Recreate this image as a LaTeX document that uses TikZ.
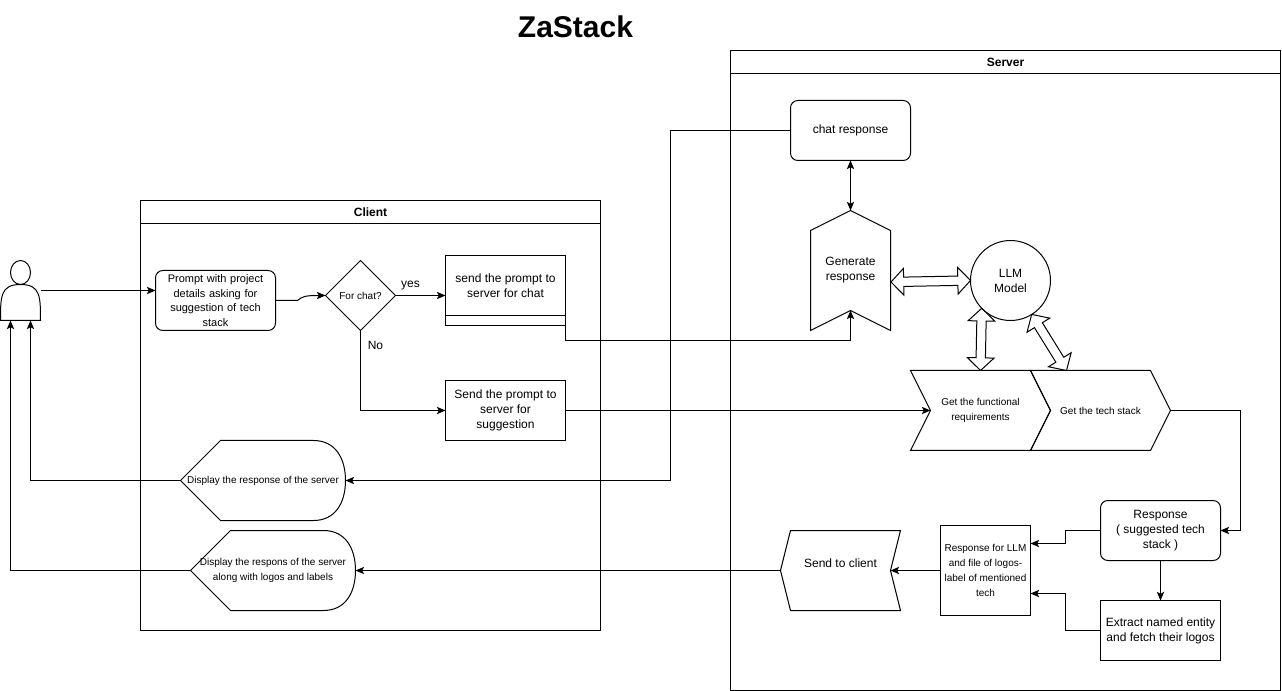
\documentclass[tikz,border=0pt]{standalone}
\usepackage{fontspec}
\setmainfont{Liberation Sans}
\usetikzlibrary{arrows.meta,calc,shapes.geometric}

\tikzset{every picture/.style={line width=0.75pt}}
\tikzset{
  label12/.style={font=\fontsize{9}{11.25}\selectfont,align=center,inner sep=0pt,outer sep=0pt},
  label11/.style={font=\fontsize{8.25}{10.8}\selectfont,align=center,inner sep=0pt,outer sep=0pt},
  label10/.style={font=\fontsize{7.5}{11.25}\selectfont,align=center,inner sep=0pt,outer sep=0pt},
  stepbox/.style={draw,minimum width=90pt,minimum height=45pt,outer sep=0pt},
  roundbox/.style={stepbox,rounded corners=5.5pt},
  lanebody/.style={draw,inner sep=0pt,outer sep=0pt},
  lanehead/.style={draw,label12,font=\fontsize{9}{11.25}\selectfont\bfseries,minimum height=17.25pt},
  conn/.style={-{Stealth[length=6.5pt,width=5.5pt,inset=1.5pt]}},
  bothconn/.style={{Stealth[length=6.5pt,width=5.5pt,inset=1.5pt]}-{Stealth[length=6.5pt,width=5.5pt,inset=1.5pt]}},
}
% block arrow with a head on both ends, from #1 to #2
\newcommand{\blockarrow}[2]{%
\draw ($(#1)$) -- ($($(#1)!9.5pt!(#2)$)!10pt!90:(#2)$) -- ($($(#1)!9.5pt!(#2)$)!3.5pt!90:(#2)$)
 -- ($($(#2)!9.5pt!(#1)$)!3.5pt!-90:(#1)$) -- ($($(#2)!9.5pt!(#1)$)!10pt!-90:(#1)$) -- ($(#2)$)
 -- ($($(#2)!9.5pt!(#1)$)!10pt!90:(#1)$) -- ($($(#2)!9.5pt!(#1)$)!3.5pt!90:(#1)$)
 -- ($($(#1)!9.5pt!(#2)$)!3.5pt!-90:(#2)$) -- ($($(#1)!9.5pt!(#2)$)!10pt!-90:(#2)$) -- cycle ;}

\begin{document}
\begin{tikzpicture}[x=0.75pt,y=0.75pt,yscale=-1,xscale=1]
\useasboundingbox (-0.5,-0.5) rectangle (1281.5,690.5);

% Text Node
\draw (575,26) node (title) [font=\fontsize{22.5}{27}\selectfont\bfseries,inner sep=0pt] {ZaStack};

%Shape: Swimlanes
\draw (370,415) node (client) [lanebody,minimum width=345pt,minimum height=322.5pt] {};
\draw (370,211.5) node (clienthead) [lanehead,minimum width=345pt] {Client};
\draw (1005,370) node (server) [lanebody,minimum width=412.5pt,minimum height=480pt] {};
\draw (1005,61.5) node (serverhead) [lanehead,minimum width=412.5pt] {Server};

%Shape: Actor
\draw (20,272) ellipse (10 and 12);
\draw (0,320) .. controls (0,296) and (0,284) .. (20,284) .. controls (40,284) and (40,296) .. (40,320) -- cycle ;
\draw (20,290) node (user) [inner sep=0pt,outer sep=0pt,minimum width=30pt,minimum height=45pt] {};

%Shape: Client steps
\draw (215,300) node (prompt) [roundbox,label11,text width=86pt] {Prompt with project\\details asking for\\suggestion of tech\\stack};
\draw (360,295) node (forchat) [draw,diamond,aspect=1,minimum size=52.5pt,label10] {For chat?};
\draw (505,285) node (chatbox) [stepbox,label12] {send the prompt to\\server for chat};
\draw (505,320) node (chatfoot) [stepbox,minimum height=7.5pt] {};
\draw (505,410) node (suggestbox) [stepbox,label12] {Send the prompt to\\server for\\suggestion};

%Shape: Display
\draw (180,480) -- (220,440) -- (313,440) .. controls (335,440) and (345,458) .. (345,480) .. controls (345,502) and (335,520) .. (313,520) -- (220,520) -- cycle ;
\draw (190,570) -- (230,530) -- (323,530) .. controls (345,530) and (355,548) .. (355,570) .. controls (355,592) and (345,610) .. (323,610) -- (230,610) -- cycle ;
\draw (262.5,480) node (displayone) [label10,minimum width=123.75pt,minimum height=60pt] {Display the response of the server};
\draw (272.5,570) node (displaytwo) [label10,minimum width=123.75pt,minimum height=60pt] {Display the respons of the server\\along with logos and labels};

%Shape: Server steps
\draw (850,130) node (chatresp) [roundbox,label12] {chat response};
\draw (850,210) -- (890,230) -- (890,330) -- (850,310) -- (810,330) -- (810,230) -- cycle ;
\draw (850,270) node (generate) [label12,minimum width=60pt,minimum height=90pt] {Generate\\response};
\coordinate (gennotch) at (850,310);
\draw (1010,280) node (llm) [draw,circle,minimum size=60pt,label12] {LLM\\Model};
\draw (910,370) -- (1030,370) -- (1050,410) -- (1030,450) -- (910,450) -- (930,410) -- cycle ;
\draw (1030,370) -- (1150,370) -- (1170,410) -- (1150,450) -- (1030,450) -- (1050,410) -- cycle ;
\draw (980,410) node (functional) [label10,minimum width=105pt,minimum height=60pt] {Get the functional\\requirements};
\draw (1100,410) node (techstack) [label10,minimum width=105pt,minimum height=60pt] {Get the tech stack};
\coordinate (funcnotch) at (930,410);
\draw (1160,530) node (response) [roundbox,label12] {Response\\( suggested tech\\stack )};
\draw (1160,630) node (extract) [stepbox,label12] {Extract named entity\\and fetch their logos};
\draw (985,570) node (llmfile) [draw,label10,minimum width=67.5pt,minimum height=67.5pt] {Response for LLM\\and file of logos-\\label of mentioned\\tech};
\draw (790,530) -- (900,530) -- (890,570) -- (900,610) -- (790,610) -- (780,570) -- cycle ;
\draw (840,570) node (sendclient) [label12,minimum width=90pt,minimum height=60pt] {Send to client\\~};
\coordinate (sendnotch) at (890,570);

%Block Arrows
\coordinate (genside) at (890.5,281.5);
\coordinate (techtop) at (1066,370);
\blockarrow{genside}{llm.west}
\blockarrow{llm.224}{functional.north}
\blockarrow{llm.302}{techtop}

%Straight Lines
\draw [conn] (user.east) -- ($(prompt.west)+(0,-10)$) ;
\draw [conn] (prompt.east) -- ++(22,0) .. controls (302,296) and (304,295) .. (forchat.west) ;
\draw [conn] (forchat.east) -- (forchat.east -| chatbox.west) ;
\draw [conn] (forchat.south) |- (suggestbox.west) ;
\draw [conn] (chatfoot.south east) -- ++(0,15) -| (gennotch) ;
\draw [conn] (suggestbox.east) -- (funcnotch) ;
\draw [bothconn] (chatresp.south) -- (850,210) ;
\coordinate (chatdrop) at (670,480);
\draw [conn] (chatresp.west) -| (chatdrop) -- (displayone.east) ;
\draw [conn] (displayone.west) -| ($(user.south)+(10,0)$) ;
\draw [conn] (displaytwo.west) -| ($(user.south)+(-10,0)$) ;
\draw [conn] (techstack.east) -- ++(70,0) |- (response.east) ;
\draw [conn] (response.south) -- (extract.north) ;
\draw [conn] (response.west) -- ++(-35,0) |- ($(llmfile.east)+(0,-27)$) ;
\draw [conn] (extract.west) -- ++(-35,0) |- ($(llmfile.east)+(0,23)$) ;
\draw [conn] (llmfile.west) -- (sendnotch) ;
\draw [conn] (sendclient.west) -- (displaytwo.east) ;

% Text Node
\draw (410,285) node (yeslabel) [label12] {yes};
% Text Node
\draw (375,344.5) node (nolabel) [label12] {No};

\end{tikzpicture}
\end{document}
